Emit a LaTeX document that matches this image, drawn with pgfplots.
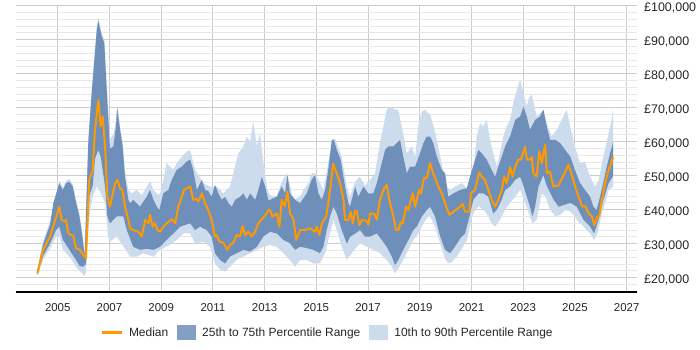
\documentclass[border=0pt]{standalone}
\usepackage{pgfplots}
\pgfplotsset{compat=1.18}
\usepgfplotslibrary{fillbetween}
\usepackage{pgfplotstable}
\usepackage{fontspec}
\setmainfont{Liberation Sans}

\definecolor{medianorange}{RGB}{255,153,0}
\definecolor{iqrblue}{RGB}{109,143,186}
\definecolor{idrblue}{RGB}{205,220,237}
\definecolor{gridmajor}{RGB}{204,204,204}
\definecolor{gridminor}{RGB}{232,232,232}

% Median salary
\pgfplotstableread{
year value
2004.21 21300
2004.44 28200
2004.70 32100
2004.93 37600
2005.06 40900
2005.15 37000
2005.28 36500
2005.32 37000
2005.41 33000
2005.60 32300
2005.71 28600
2005.84 28300
2005.99 26700
2006.09 25700
2006.22 48800
2006.35 51700
2006.44 63500
2006.57 72300
2006.66 64500
2006.74 67400
2006.83 58600
2006.92 43800
2007.02 40900
2007.13 44800
2007.22 47800
2007.31 48800
2007.41 46300
2007.50 45800
2007.60 40900
2007.73 37000
2007.80 34500
2007.92 34000
2008.12 33500
2008.25 32100
2008.38 37000
2008.51 36000
2008.57 38500
2008.67 35000
2008.76 36000
2008.85 34000
2008.96 33500
2009.08 35000
2009.24 36200
2009.41 37200
2009.54 36000
2009.66 40900
2009.80 43800
2009.88 45800
2009.99 46300
2010.12 46800
2010.24 42900
2010.35 43200
2010.44 42400
2010.57 44800
2010.70 41900
2010.82 39900
2010.95 37000
2011.08 32100
2011.15 32500
2011.25 30600
2011.40 30300
2011.56 28200
2011.66 29600
2011.79 30300
2011.92 32600
2012.05 32100
2012.15 35200
2012.24 32500
2012.37 33500
2012.50 32100
2012.63 33500
2012.76 36000
2012.89 37200
2013.02 38200
2013.15 39900
2013.21 40000
2013.30 38000
2013.47 38900
2013.57 35000
2013.66 42900
2013.78 41000
2013.88 45300
2013.98 38900
2014.11 37400
2014.22 31100
2014.37 34000
2014.56 34000
2014.76 34500
2014.95 33500
2015.01 35000
2015.12 32600
2015.21 36000
2015.38 38000
2015.46 41900
2015.55 46800
2015.65 53500
2015.76 51200
2015.92 47800
2016.05 42900
2016.11 37000
2016.24 37000
2016.33 39400
2016.41 36000
2016.50 39700
2016.56 39500
2016.66 35500
2016.76 37000
2016.95 36700
2017.01 35500
2017.08 38900
2017.24 38800
2017.34 37000
2017.46 42900
2017.62 46300
2017.72 47300
2017.82 42900
2017.98 38000
2018.08 34000
2018.17 34000
2018.26 36200
2018.34 36000
2018.47 40900
2018.56 39900
2018.73 44800
2018.82 40900
2018.97 45800
2019.05 44800
2019.16 49300
2019.27 49300
2019.40 53700
2019.52 50700
2019.72 46800
2019.85 44800
2019.98 41900
2020.07 39900
2020.15 38500
2020.30 39400
2020.49 40400
2020.66 41700
2020.75 39400
2020.92 39400
2020.97 44800
2021.14 45800
2021.20 47800
2021.30 50900
2021.40 49700
2021.52 48800
2021.65 45800
2021.78 42900
2021.91 40900
2022.04 42900
2022.17 45800
2022.26 49700
2022.36 47800
2022.49 52500
2022.59 49700
2022.69 52700
2022.80 54700
2022.91 54700
2023.07 58600
2023.14 54700
2023.26 54700
2023.33 55500
2023.39 50700
2023.52 49700
2023.62 57100
2023.72 53700
2023.78 56600
2023.85 59100
2023.91 50700
2024.04 51200
2024.10 48800
2024.17 46800
2024.37 47200
2024.75 53200
2024.82 51700
2025.01 46800
2025.14 43800
2025.28 40900
2025.40 41000
2025.53 38900
2025.66 38000
2025.75 35500
2025.87 38000
2025.94 38000
2026.04 42900
2026.17 47800
2026.30 51700
2026.42 54200
2026.48 55600
}\mediandata

% 75th percentile
\pgfplotstableread{
year value
2004.21 22000
2004.44 30000
2004.70 35500
2004.83 42000
2005.06 47800
2005.20 45800
2005.32 47800
2005.45 48200
2005.58 46800
2005.71 41900
2005.84 38000
2005.97 31100
2006.04 26200
2006.18 59600
2006.31 74000
2006.51 92900
2006.57 95500
2006.70 91000
2006.80 89000
2006.90 74300
2007.02 58000
2007.15 58600
2007.25 64500
2007.30 70000
2007.41 63500
2007.51 58600
2007.60 49700
2007.73 42900
2007.80 41900
2007.92 42900
2008.18 40900
2008.44 43800
2008.57 45800
2008.70 42900
2008.83 40900
2008.93 39900
2009.08 44800
2009.28 45800
2009.41 48800
2009.60 51700
2009.80 52700
2009.99 54200
2010.12 54700
2010.24 51700
2010.38 45800
2010.57 48800
2010.70 45800
2010.82 45500
2010.95 43800
2011.08 47300
2011.21 44800
2011.34 42900
2011.47 43800
2011.60 41900
2011.73 40900
2011.86 42900
2012.05 43800
2012.18 44800
2012.31 42900
2012.44 44800
2012.63 42900
2012.76 45800
2012.89 49700
2013.02 46800
2013.14 42900
2013.21 42900
2013.47 43800
2013.66 46800
2013.79 44800
2013.88 50200
2013.98 44800
2014.18 42900
2014.37 41900
2014.63 44800
2014.82 48800
2014.95 50200
2015.08 44800
2015.21 42900
2015.34 45800
2015.46 51700
2015.60 60500
2015.68 60500
2015.79 57600
2015.94 54700
2016.11 46800
2016.24 41900
2016.30 40900
2016.50 46800
2016.62 43800
2016.82 46800
2017.01 44800
2017.20 44800
2017.34 47800
2017.53 53700
2017.66 57600
2017.78 58600
2017.98 58600
2018.11 59600
2018.24 60500
2018.36 55600
2018.50 50700
2018.62 52700
2018.82 52700
2019.01 56600
2019.14 59600
2019.27 61500
2019.40 61500
2019.52 59600
2019.66 55600
2019.85 51700
2019.98 50700
2020.10 43800
2020.30 44800
2020.56 45800
2020.82 46300
2020.94 49700
2021.14 54700
2021.27 57600
2021.40 56600
2021.59 54700
2021.78 51700
2021.91 49700
2022.04 52700
2022.17 55600
2022.30 58600
2022.49 61500
2022.69 66400
2022.88 67400
2023.01 70300
2023.14 67400
2023.26 63500
2023.46 66400
2023.65 67400
2023.78 69400
2023.91 64500
2024.04 60500
2024.24 60500
2024.43 59600
2024.62 57600
2024.82 55600
2025.00 51700
2025.20 47800
2025.39 45800
2025.59 43800
2025.71 40900
2025.84 39900
2025.97 43800
2026.10 48000
2026.23 52700
2026.36 56600
2026.48 60000
}\pseventyfive

% 25th percentile
\pgfplotstableread{
year value
2004.21 20800
2004.44 26500
2004.70 30000
2004.93 34000
2005.06 35000
2005.20 31100
2005.45 28200
2005.71 25200
2005.84 23500
2005.97 23200
2006.09 24000
2006.22 44000
2006.35 47000
2006.44 55000
2006.57 57600
2006.66 55600
2006.83 46800
2006.92 38000
2007.02 36000
2007.28 38000
2007.54 38000
2007.67 34000
2007.92 29100
2008.18 28200
2008.44 28500
2008.70 28200
2008.96 29100
2009.21 31100
2009.47 33000
2009.73 35000
2010.12 36000
2010.31 34000
2010.50 35000
2010.76 34000
2010.95 32100
2011.08 27200
2011.28 25200
2011.47 24200
2011.66 26200
2011.92 27200
2012.18 28200
2012.44 27700
2012.70 29100
2012.95 32100
2013.21 33500
2013.47 33000
2013.72 31100
2013.98 30100
2014.18 28200
2014.37 29100
2014.63 28700
2014.88 28200
2015.14 27200
2015.27 29100
2015.40 34000
2015.53 38000
2015.66 40900
2015.79 38900
2015.98 34000
2016.18 30000
2016.30 32000
2016.50 33000
2016.69 34000
2016.88 32100
2017.08 32100
2017.34 33000
2017.53 31100
2017.72 29100
2017.92 26200
2018.04 23700
2018.17 25200
2018.36 28200
2018.56 31100
2018.75 34000
2018.88 35000
2019.08 38000
2019.27 39900
2019.40 40900
2019.59 38000
2019.79 32100
2019.98 28200
2020.17 27200
2020.36 29100
2020.56 31500
2020.75 33000
2020.92 38000
2021.07 42900
2021.27 44800
2021.46 44800
2021.65 43800
2021.84 38900
2021.98 40000
2022.17 42900
2022.30 45800
2022.49 46800
2022.69 48800
2022.88 49700
2023.01 47000
2023.14 43800
2023.26 40900
2023.36 38000
2023.46 40900
2023.59 46800
2023.78 50200
2023.91 47000
2024.04 45000
2024.17 43000
2024.37 40900
2024.62 41500
2024.82 42000
2025.07 40900
2025.33 37000
2025.59 35000
2025.74 33000
2025.91 37000
2026.10 42900
2026.30 47800
2026.48 50000
}\ptwentyfive

% 90th percentile
\pgfplotstableread{
year value
2004.21 22500
2004.44 31000
2004.70 36500
2004.93 43500
2005.06 48500
2005.20 46500
2005.32 48500
2005.45 49000
2005.58 47500
2005.71 43000
2005.84 39000
2005.97 32000
2006.04 27000
2006.18 61000
2006.31 75500
2006.51 94000
2006.57 96500
2006.70 92000
2006.80 90000
2006.90 76000
2007.02 61000
2007.15 62000
2007.25 66000
2007.30 70500
2007.41 64500
2007.51 59600
2007.60 51700
2007.73 45800
2007.86 44800
2008.05 45800
2008.25 44300
2008.44 46800
2008.57 48300
2008.70 45800
2008.89 44300
2008.96 44800
2009.08 48800
2009.21 53700
2009.34 52700
2009.47 51700
2009.60 53700
2009.80 55600
2009.99 57100
2010.12 57600
2010.31 51700
2010.63 47800
2010.89 46800
2011.15 46800
2011.40 44800
2011.66 46800
2011.79 50700
2011.98 56600
2012.18 58600
2012.31 61500
2012.44 60000
2012.56 66000
2012.70 58600
2012.82 62500
2012.98 52000
2013.10 46000
2013.21 44300
2013.47 43800
2013.66 48300
2013.88 50700
2014.11 42900
2014.37 43800
2014.50 45800
2014.69 47800
2014.82 50700
2014.95 50700
2015.08 48800
2015.27 45800
2015.46 53700
2015.60 60500
2015.72 61000
2015.98 55600
2016.18 46800
2016.30 43800
2016.50 48300
2016.69 49700
2016.88 47000
2017.08 48800
2017.27 50700
2017.46 59600
2017.59 64500
2017.72 69400
2017.85 70300
2018.04 69500
2018.17 69400
2018.30 64500
2018.50 56600
2018.69 58600
2018.82 55600
2018.94 64500
2019.08 68900
2019.20 69400
2019.33 68400
2019.40 68000
2019.59 63000
2019.79 55600
2020.04 46800
2020.17 45800
2020.36 46800
2020.62 47800
2020.82 46500
2021.07 50700
2021.20 61500
2021.33 65400
2021.46 64500
2021.59 66400
2021.72 60500
2021.84 56600
2021.98 52700
2022.10 56600
2022.23 61500
2022.36 64500
2022.49 66400
2022.64 72300
2022.88 78200
2023.01 74300
2023.14 70400
2023.20 72500
2023.33 74000
2023.52 67400
2023.78 69400
2023.91 65400
2024.10 61500
2024.30 63500
2024.49 66400
2024.68 69400
2024.82 64500
2025.00 58600
2025.20 53700
2025.39 54000
2025.59 49700
2025.78 46800
2025.91 48500
2026.10 55600
2026.30 62500
2026.42 66400
2026.48 70300
}\pninety

% 10th percentile
\pgfplotstableread{
year value
2004.21 20300
2004.44 25500
2004.70 28500
2004.93 32000
2005.06 32100
2005.20 28200
2005.45 26200
2005.71 23200
2005.84 22000
2005.97 21000
2006.04 20500
2006.09 21500
2006.22 38000
2006.35 43800
2006.51 46800
2006.66 45000
2006.83 42000
2006.95 32000
2007.02 30600
2007.28 32100
2007.54 29100
2007.80 26200
2008.05 26200
2008.31 27200
2008.70 26200
2008.96 28200
2009.28 29400
2009.60 31100
2009.86 33000
2010.12 33000
2010.31 30100
2010.63 30500
2010.89 29100
2011.08 24200
2011.28 22300
2011.47 21800
2011.66 23200
2011.92 25200
2012.18 26200
2012.44 27200
2012.70 28200
2012.95 29100
2013.21 29600
2013.47 29100
2013.72 27200
2013.98 25200
2014.18 23200
2014.37 25200
2014.63 25200
2014.88 24200
2015.14 24200
2015.34 27200
2015.53 33000
2015.66 37000
2015.79 34000
2015.98 29100
2016.18 25200
2016.30 26500
2016.50 28500
2016.69 30100
2016.95 29100
2017.20 28200
2017.46 27200
2017.72 25200
2017.92 23200
2018.04 21300
2018.17 22700
2018.36 25200
2018.56 28200
2018.75 31100
2018.94 33000
2019.14 36000
2019.33 38000
2019.40 38000
2019.59 35000
2019.79 30000
2019.98 25500
2020.10 24200
2020.23 24500
2020.43 26200
2020.62 28500
2020.82 31000
2020.94 35000
2021.07 39000
2021.27 41000
2021.46 40000
2021.65 38000
2021.78 36000
2021.91 35000
2022.10 37000
2022.30 40000
2022.49 42000
2022.69 43800
2022.88 45800
2023.07 42000
2023.26 38000
2023.36 36000
2023.52 37000
2023.72 44800
2023.85 44000
2024.04 40000
2024.24 38000
2024.43 38500
2024.62 39900
2024.82 39500
2025.00 38000
2025.07 37000
2025.33 35000
2025.59 33000
2025.74 31100
2025.87 33000
2026.04 39000
2026.17 42000
2026.30 45800
2026.48 46800
}\pten

\pgfplotsset{
  bandlegend/.style={legend image code/.code={\fill[##1, draw=none] (0bp,-7.5bp) rectangle (19bp,7.5bp);}},
  linelegend/.style={legend image code/.code={\draw[##1] (0bp,0bp) -- (20bp,0bp);}},
}

\begin{document}
\begin{tikzpicture}
\begin{axis}[
  at={(15.6bp,58bp)}, anchor=south west,
  scale only axis, width=621.4bp, height=286.3bp,
  xmin=2003.37, xmax=2027.4, ymin=15790, ymax=100000,
  xtick={2005,2007,...,2027},
  ytick={20000,30000,...,100000},
  minor ytick={16000,18000,22000,24000,26000,28000,32000,34000,36000,38000,42000,44000,46000,48000,52000,54000,56000,58000,62000,64000,66000,68000,72000,74000,76000,78000,82000,84000,86000,88000,92000,94000,96000,98000},
  xmajorgrids, ymajorgrids, yminorgrids,
  major grid style={draw=gridmajor, line width=0.9bp},
  minor grid style={draw=gridminor, line width=0.9bp},
  axis x line*=bottom, axis y line*=right,
  x axis line style={draw=black, line width=1.1bp, -},
  y axis line style={draw=none},
  major tick length=0pt, minor tick length=0pt,
  tick style={draw=none},
  scaled y ticks=false,
  /pgf/number format/assume math mode=true,
  tick label style={text=black!85},
  xticklabel style={font=\fontsize{11.5}{13}\selectfont, /pgf/number format/1000 sep={}, anchor=north, inner sep=0pt, yshift=-11bp},
  yticklabel={£\pgfmathprintnumber[fixed,precision=0,1000 sep={,}]{\tick}},
  yticklabel style={font=\fontsize{12.5}{14}\selectfont, anchor=base west, inner sep=0pt, xshift=7bp, yshift=-5.6bp},
  legend columns=3,
  legend style={at={(0.5,-0.143)}, anchor=center, draw=none, fill=none,
    font=\fontsize{12}{14}\selectfont, text=black!85,
    nodes={inner sep=0pt},
    /tikz/every odd column/.append style={column sep=6bp},
    /tikz/every even column/.append style={column sep=9bp}},
]
% 10th to 90th percentile band
\addplot[name path=p90, draw=none, forget plot] table[x=year, y=value]{\pninety};
\addplot[name path=p10, draw=none, forget plot] table[x=year, y=value]{\pten};
\addplot[fill=idrblue, draw=none, forget plot] fill between[of=p90 and p10];
% 25th to 75th percentile band
\addplot[name path=p75, draw=none, forget plot] table[x=year, y=value]{\pseventyfive};
\addplot[name path=p25, draw=none, forget plot] table[x=year, y=value]{\ptwentyfive};
\addplot[fill=iqrblue, draw=none, forget plot] fill between[of=p75 and p25];
% median
\addplot[draw=medianorange, line width=2bp, line join=round, forget plot] table[x=year, y=value]{\mediandata};

\addlegendimage{linelegend, draw=medianorange, line width=3bp}
\addlegendentry{Median}
\addlegendimage{bandlegend, fill=iqrblue!85!white}
\addlegendentry{25th to 75th Percentile Range}
\addlegendimage{bandlegend, fill=idrblue}
\addlegendentry{10th to 90th Percentile Range}
\end{axis}
% fixed page frame
\path (0,0) rectangle (700bp,350bp);
\end{tikzpicture}
\end{document}
